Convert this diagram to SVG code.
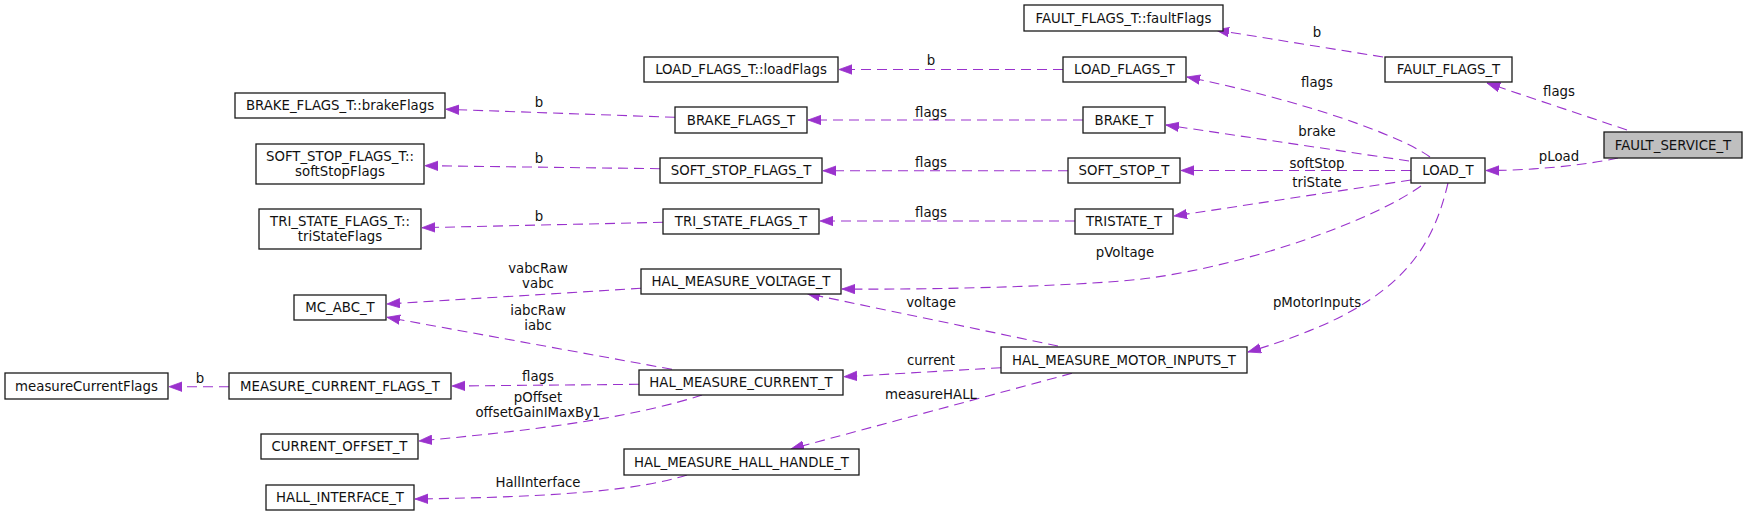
<svg xmlns="http://www.w3.org/2000/svg" width="1748" height="516" viewBox="0 0 1748 516">
<style>
.n rect{fill:#fff;stroke:#1a1a1a;stroke-width:1.3}
.n.root rect{fill:#bfbfbf}
.n text{font-family:"DejaVu Sans",sans-serif;font-size:13.3px;fill:#111;text-anchor:middle}
.e path{fill:none;stroke:#9a32cd;stroke-width:1.1;stroke-dasharray:10,6}
.e text{font-family:"DejaVu Sans",sans-serif;font-size:13.3px;fill:#111;text-anchor:middle}
</style>
<defs>
<marker id="ah" markerUnits="userSpaceOnUse" markerWidth="14" markerHeight="11" refX="13" refY="4.7" orient="auto" viewBox="0 0 14 10">
<path d="M0,0 L13,4.7 L0,9.4 z" fill="#9a32cd" stroke="#9a32cd" stroke-width="0.8"/>
</marker>
</defs>
<g id="connectors" class="e">
<path d="M1383,57 L1216,30" marker-end="url(#ah)"/>
<text x="1317" y="37">b</text>
<path d="M1627,130 L1487,83" marker-end="url(#ah)"/>
<text x="1559" y="96">flags</text>
<path d="M1618,158 C1580,166 1530,170.5 1486,170.5" marker-end="url(#ah)"/>
<text x="1559" y="161">pLoad</text>
<path d="M1430,157 C1400,135 1300,100 1187,77" marker-end="url(#ah)"/>
<text x="1317" y="87">flags</text>
<path d="M1409,161 L1166,125" marker-end="url(#ah)"/>
<text x="1317" y="136">brake</text>
<path d="M1411,170.5 L1181,170.5" marker-end="url(#ah)"/>
<text x="1317" y="167.5">softStop</text>
<path d="M1411,180 L1174,216" marker-end="url(#ah)"/>
<text x="1317" y="187">triState</text>
<path d="M1421,186 C1370,222 1250,264 1150,278 C1100,285 950,290 842,289" marker-end="url(#ah)"/>
<text x="1125" y="256.5">pVoltage</text>
<path d="M1448,183 C1430,260 1390,310 1248,352" marker-end="url(#ah)"/>
<text x="1317" y="307">pMotorInputs</text>
<path d="M1063,69.5 L839,69.5" marker-end="url(#ah)"/>
<text x="931" y="65">b</text>
<path d="M1083,120 L808,120" marker-end="url(#ah)"/>
<text x="931" y="116.5">flags</text>
<path d="M675,117.3 L446,109.3" marker-end="url(#ah)"/>
<text x="539" y="106.5">b</text>
<path d="M1068,170.7 L823,170.7" marker-end="url(#ah)"/>
<text x="931" y="167">flags</text>
<path d="M660,168.7 L425,165.7" marker-end="url(#ah)"/>
<text x="539" y="163">b</text>
<path d="M1075,221 L820,221" marker-end="url(#ah)"/>
<text x="931" y="217">flags</text>
<path d="M663,222.3 L422,227.7" marker-end="url(#ah)"/>
<text x="539" y="221">b</text>
<path d="M641,288.3 L387,304" marker-end="url(#ah)"/>
<text x="538" y="273">vabcRaw</text>
<text x="538" y="288">vabc</text>
<path d="M672,369.3 L387,317.3" marker-end="url(#ah)"/>
<text x="538" y="315">iabcRaw</text>
<text x="538" y="329.5">iabc</text>
<path d="M639,384.3 L452,386" marker-end="url(#ah)"/>
<text x="538" y="380.5">flags</text>
<path d="M229,386.7 L169,386.7" marker-end="url(#ah)"/>
<text x="200" y="382.5">b</text>
<path d="M702,395 C640,415 560,428 419,441" marker-end="url(#ah)"/>
<text x="538" y="402">pOffset</text>
<text x="538" y="417">offsetGainIMaxBy1</text>
<path d="M1058,346 L807,293.5" marker-end="url(#ah)"/>
<text x="931" y="306.5">voltage</text>
<path d="M1001,367.7 L844,376.7" marker-end="url(#ah)"/>
<text x="931" y="365">current</text>
<path d="M1072,373.3 L791,449" marker-end="url(#ah)"/>
<text x="931" y="399">measureHALL</text>
<path d="M687,475 C640,490 560,497 415,499" marker-end="url(#ah)"/>
<text x="538" y="487">HallInterface</text>
</g>
<g id="FAULT_SERVICE_T" class="n root"><rect x="1604" y="132" width="138" height="26"/><text x="1673" y="149.5">FAULT_SERVICE_T</text></g>
<g id="FAULT_FLAGS_T" class="n"><rect x="1385" y="57" width="127" height="25"/><text x="1448.5" y="74">FAULT_FLAGS_T</text></g>
<g id="FAULT_FLAGS_T_faultFlags" class="n"><rect x="1024" y="5" width="199" height="26"/><text x="1123.5" y="22.5">FAULT_FLAGS_T::faultFlags</text></g>
<g id="LOAD_T" class="n"><rect x="1411" y="158" width="74" height="25"/><text x="1448" y="175">LOAD_T</text></g>
<g id="LOAD_FLAGS_T" class="n"><rect x="1063" y="57" width="123" height="25"/><text x="1124.5" y="74">LOAD_FLAGS_T</text></g>
<g id="LOAD_FLAGS_T_loadFlags" class="n"><rect x="644" y="57" width="194" height="25"/><text x="741" y="74">LOAD_FLAGS_T::loadFlags</text></g>
<g id="BRAKE_T" class="n"><rect x="1083" y="107" width="82" height="26"/><text x="1124" y="124.5">BRAKE_T</text></g>
<g id="BRAKE_FLAGS_T" class="n"><rect x="675" y="107" width="132" height="26"/><text x="741" y="124.5">BRAKE_FLAGS_T</text></g>
<g id="BRAKE_FLAGS_T_brakeFlags" class="n"><rect x="235" y="93" width="210" height="25"/><text x="340" y="110">BRAKE_FLAGS_T::brakeFlags</text></g>
<g id="SOFT_STOP_T" class="n"><rect x="1068" y="158" width="112" height="25"/><text x="1124" y="175">SOFT_STOP_T</text></g>
<g id="SOFT_STOP_FLAGS_T" class="n"><rect x="660" y="158" width="162" height="25"/><text x="741" y="175">SOFT_STOP_FLAGS_T</text></g>
<g id="SOFT_STOP_FLAGS_T_softStopFlags" class="n"><rect x="256" y="144" width="168" height="40"/><text x="340" y="160.5">SOFT_STOP_FLAGS_T::</text><text x="340" y="175.5">softStopFlags</text></g>
<g id="TRISTATE_T" class="n"><rect x="1075" y="209" width="98" height="25"/><text x="1124" y="226">TRISTATE_T</text></g>
<g id="TRI_STATE_FLAGS_T" class="n"><rect x="663" y="209" width="156" height="25"/><text x="741" y="226">TRI_STATE_FLAGS_T</text></g>
<g id="TRI_STATE_FLAGS_T_triStateFlags" class="n"><rect x="259" y="209" width="162" height="40"/><text x="340" y="225.5">TRI_STATE_FLAGS_T::</text><text x="340" y="240.5">triStateFlags</text></g>
<g id="HAL_MEASURE_VOLTAGE_T" class="n"><rect x="641" y="269" width="200" height="25"/><text x="741" y="286">HAL_MEASURE_VOLTAGE_T</text></g>
<g id="MC_ABC_T" class="n"><rect x="294" y="295" width="92" height="25"/><text x="340" y="312">MC_ABC_T</text></g>
<g id="HAL_MEASURE_MOTOR_INPUTS_T" class="n"><rect x="1001" y="347" width="246" height="26"/><text x="1124" y="364.5">HAL_MEASURE_MOTOR_INPUTS_T</text></g>
<g id="HAL_MEASURE_CURRENT_T" class="n"><rect x="639" y="370" width="204" height="25"/><text x="741" y="387">HAL_MEASURE_CURRENT_T</text></g>
<g id="MEASURE_CURRENT_FLAGS_T" class="n"><rect x="229" y="373" width="222" height="26"/><text x="340" y="390.5">MEASURE_CURRENT_FLAGS_T</text></g>
<g id="measureCurrentFlags" class="n"><rect x="5" y="373" width="163" height="26"/><text x="86.5" y="390.5">measureCurrentFlags</text></g>
<g id="CURRENT_OFFSET_T" class="n"><rect x="261" y="434" width="157" height="25"/><text x="339.5" y="451">CURRENT_OFFSET_T</text></g>
<g id="HAL_MEASURE_HALL_HANDLE_T" class="n"><rect x="624" y="449" width="235" height="26"/><text x="741.5" y="466.5">HAL_MEASURE_HALL_HANDLE_T</text></g>
<g id="HALL_INTERFACE_T" class="n"><rect x="266" y="485" width="148" height="25"/><text x="340" y="502">HALL_INTERFACE_T</text></g>
</svg>
